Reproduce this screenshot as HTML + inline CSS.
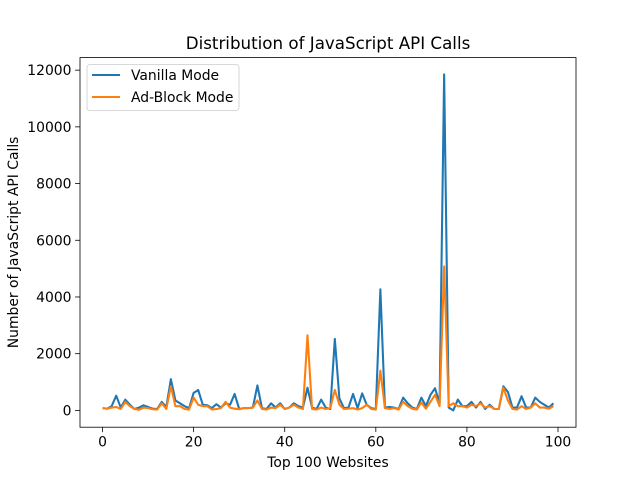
<!DOCTYPE html>
<html><head><meta charset="utf-8"><style>
body{margin:0;background:#fff}
text{font-family:"DejaVu Sans","Liberation Sans",sans-serif;fill:#000}
</style></head><body>
<svg id="chart" width="640" height="480" xmlns="http://www.w3.org/2000/svg">
<rect width="640" height="480" fill="#fff"/>
<g id="plot"></g>
</svg>
<script>
const xs = Array.from({length:100},(_,i)=>i);
const vanilla = [80,60,150,520,100,380,200,50,100,180,120,60,50,300,120,1100,350,250,150,80,620,720,200,180,80,220,100,250,200,580,50,80,80,100,880,80,50,250,100,250,50,100,250,150,100,800,100,50,380,100,50,2520,420,80,100,580,80,600,200,80,50,4270,100,120,100,50,450,250,100,50,450,150,550,780,250,11850,100,0,380,150,150,300,100,300,50,200,50,50,850,650,100,100,500,100,100,450,300,200,100,250];
const adblock = [80,60,100,120,50,300,150,50,20,100,80,40,30,250,50,850,150,150,50,30,450,200,150,150,30,50,80,300,100,60,40,80,80,100,350,50,30,100,80,200,50,100,200,100,50,2650,50,30,100,50,80,720,200,50,60,80,30,80,200,50,30,1400,80,50,80,30,300,150,60,30,280,60,300,550,150,5080,150,250,150,150,100,200,150,250,100,150,50,50,800,350,50,30,150,50,100,250,100,100,60,150];
const xTicks = [0,20,40,60,80,100];
const yTicks = [0,2000,4000,6000,8000,10000,12000];
const series = [{name:'Vanilla Mode',vals:vanilla,color:'#1f77b4'},{name:'Ad-Block Mode',vals:adblock,color:'#ff7f0e'}];

const L=80,R=576,T=57.6,B=427.2;
const xmin=-4.95,xmax=103.95;
const ymin=-592.5,ymax=12442.5;
const X=v=>L+(v-xmin)/(xmax-xmin)*(R-L);
const Y=v=>B-(v-ymin)/(ymax-ymin)*(B-T);
const ns='http://www.w3.org/2000/svg';
const g=document.getElementById('plot');
function mk(tag,attrs,parent){const e=document.createElementNS(ns,tag);for(const k in attrs)e.setAttribute(k,attrs[k]);(parent||g).appendChild(e);return e;}

series.forEach(s=>{
  const p=mk('polyline',{points:s.vals.map((v,i)=>X(xs[i]).toFixed(2)+','+Y(v).toFixed(2)).join(' '),fill:'none',stroke:s.color,'stroke-width':2.08,'stroke-linejoin':'round'});
  
  
});
const frame=mk('rect',{x:L,y:T,width:R-L,height:B-T,fill:'none',stroke:'#000','stroke-width':0.8});



xTicks.forEach(t=>{
  const x=X(t);
  mk('line',{x1:x,x2:x,y1:B,y2:B+4.9,stroke:'#000','stroke-width':0.8});
  const tx=mk('text',{x:x,y:B+19.5,'text-anchor':'middle','font-size':13.9});
  tx.textContent=t;
  
  
});
yTicks.forEach(t=>{
  const y=Y(t);
  mk('line',{x1:L-4.9,x2:L,y1:y,y2:y,stroke:'#000','stroke-width':0.8});
  const tx=mk('text',{x:L-8.5,y:y+5,'text-anchor':'end','font-size':13.9});
  tx.textContent=t;
  
  
});
let t1=mk('text',{x:(L+R)/2,y:T-8.5,'text-anchor':'middle','font-size':16.7});
t1.textContent='Distribution of JavaScript API Calls';


let t2=mk('text',{x:(L+R)/2,y:467,'text-anchor':'middle','font-size':13.9});
t2.textContent='Top 100 Websites';


let t3=mk('text',{x:0,y:0,'text-anchor':'middle','font-size':13.9,transform:`translate(18,${(T+B)/2}) rotate(-90)`});
t3.textContent='Number of JavaScript API Calls';



const lg=mk('g',{});


mk('rect',{x:87,y:64.5,width:152,height:46,rx:3,fill:'#fff',stroke:'#ccc','stroke-width':0.8},lg);
series.forEach((s,i)=>{
  const y=75+i*22;
  mk('line',{x1:92,x2:120,y1:y,y2:y,stroke:s.color,'stroke-width':2.08},lg);
  const tx=mk('text',{x:131,y:y+5,'font-size':13.9},lg);
  tx.textContent=s.name;
  
  
});
</script>
</body></html>
